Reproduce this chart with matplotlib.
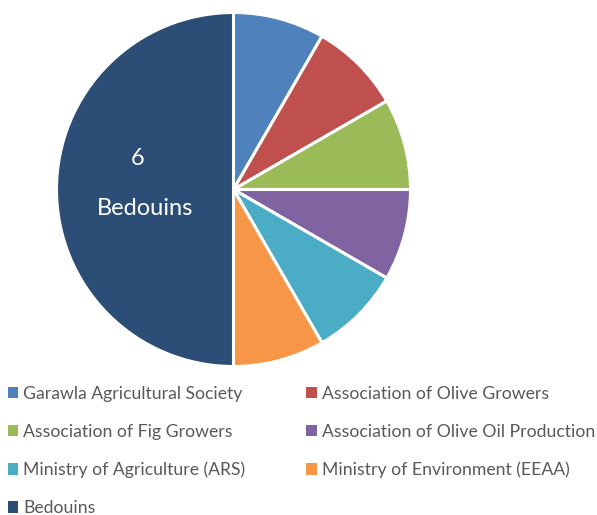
import matplotlib
matplotlib.use("Agg")
import matplotlib.pyplot as plt

categories = ["Garawla Agricultural Society", "Association of Olive Growers",
              "Association of Fig Growers", "Association of Olive Oil Production",
              "Ministry of Agriculture (ARS)", "Ministry of Environment (EEAA)",
              "Bedouins"]
values = [1, 1, 1, 1, 1, 1, 6]
colors = ["#4F81BD", "#C0504D", "#9BBB59", "#8064A2", "#4BACC6", "#F79646", "#2C4D75"]

plt.rcParams['font.family'] = ['Lato', 'DejaVu Sans']

W, H = 597, 515
fig = plt.figure(figsize=(W / 100, H / 100), dpi=100)
cx, cy, r = 233.5, 189.5, 177
ax = fig.add_axes([(cx - r) / W, (H - cy - r) / H, 2 * r / W, 2 * r / H])
wedges, _ = ax.pie(values, colors=colors, startangle=90, counterclock=False,
                   radius=1, wedgeprops=dict(edgecolor="white", linewidth=2.2))
ax.set_xlim(-1, 1)
ax.set_ylim(-1, 1)
ax.set_aspect("equal")
ax.axis("off")

# label for Bedouins
ax.text(-0.54, 0.175, str(values[-1]), color="white", fontsize=17,
        ha="center", va="center")
ax.text(-0.5, -0.11, categories[-1], color="white", fontsize=17,
        ha="center", va="center")

order = [0, 2, 4, 6, 1, 3, 5]
leg = fig.legend([wedges[i] for i in order], [categories[i] for i in order],
                 ncol=2, loc="upper left", bbox_to_anchor=(4 / W, 1 - 382 / H),
                 frameon=False, fontsize=12.7, handlelength=0.6, handleheight=0.6,
                 handletextpad=0.3, labelspacing=1.25, columnspacing=3.45,
                 borderaxespad=0, borderpad=0.2)
for t in leg.get_texts():
    t.set_color("#595959")
for h in leg.legend_handles:
    h.set_edgecolor("none")

fig.savefig("out.png", dpi=100)
